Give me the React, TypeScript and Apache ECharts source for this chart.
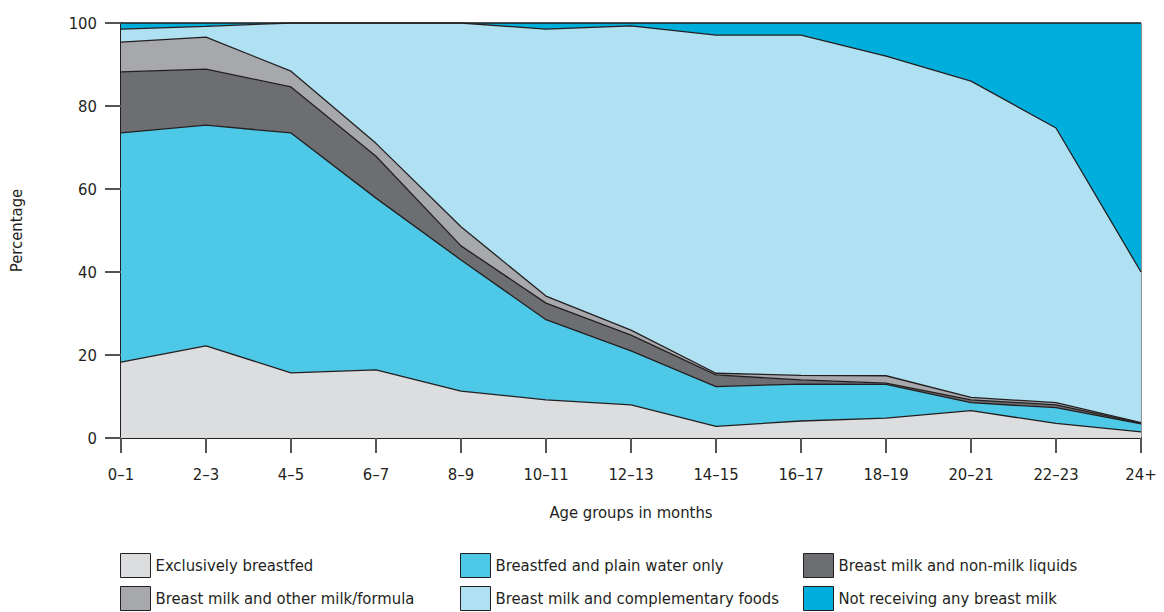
import React, { useEffect, useRef } from "react";
import * as echarts from "echarts";

const categories = ["0–1", "2–3", "4–5", "6–7", "8–9", "10–11", "12–13", "14–15", "16–17", "18–19", "20–21", "22–23", "24+"];
const exclusivelyBreastfed = [18.3, 22.2, 15.7, 16.4, 11.3, 9.2, 8.0, 2.8, 4.1, 4.8, 6.6, 3.5, 1.5];
const plainWaterOnly = [55.2, 53.2, 57.8, 41.4, 31.6, 19.3, 13.0, 9.6, 8.9, 8.1, 1.9, 3.8, 1.9];
const nonMilkLiquids = [14.7, 13.5, 11.1, 10.1, 3.4, 4.0, 3.8, 2.8, 1.0, 0.3, 0.7, 0.7, 0.2];
const otherMilkFormula = [7.2, 7.7, 3.8, 3.1, 4.6, 1.7, 1.2, 0.4, 1.1, 1.8, 0.6, 0.5, 0.1];
const complementaryFoods = [3.1, 2.6, 11.6, 29.0, 49.1, 64.3, 73.3, 81.5, 82.0, 77.0, 76.2, 66.2, 36.3];
const notReceiving = [1.5, 0.8, 0, 0, 0, 1.5, 0.7, 2.9, 2.9, 8.0, 14.0, 25.3, 60.0];
const yTicks = [0, 20, 40, 60, 80, 100];

const FONT = "'Liberation Sans Narrow', 'DejaVu Sans Condensed', 'Roboto', sans-serif";
const INK = "#231F20";
const FS = 16.5;

const seriesDefs = [
  { name: "Exclusively breastfed", data: exclusivelyBreastfed, color: "#DCDDDF" },
  { name: "Breastfed and plain water only", data: plainWaterOnly, color: "#4DC8E6" },
  { name: "Breast milk and non-milk liquids", data: nonMilkLiquids, color: "#6D6E72" },
  { name: "Breast milk and other milk/formula", data: otherMilkFormula, color: "#A7A8AC" },
  { name: "Breast milk and complementary foods", data: complementaryFoods, color: "#B0E1F2" },
  { name: "Not receiving any breast milk", data: notReceiving, color: "#00AEDB" },
];

export default function App() {
  const ref = useRef<HTMLDivElement>(null);
  useEffect(() => {
    if (!ref.current) return;
    const chart = echarts.init(ref.current, undefined, { renderer: "svg" });
    const legendBase = {
      orient: "vertical" as const,
      top: 553,
      itemWidth: 30,
      itemHeight: 24,
      itemGap: 8,
      icon: "rect",
      itemStyle: { borderColor: INK, borderWidth: 1 },
      textStyle: { fontFamily: FONT, fontSize: FS, color: INK },
      selectedMode: false as const,
      padding: 0,
    };
    chart.setOption({
      animation: false,
      backgroundColor: "#ffffff",
      textStyle: { fontFamily: FONT },
      grid: {
        left: 120,
        right: 23,
        top: 23,
        bottom: 174,
        show: true,
        borderColor: INK,
        borderWidth: 1,
        backgroundColor: "transparent",
      },
      legend: [
        { ...legendBase, left: 120, data: [seriesDefs[0].name, seriesDefs[3].name] },
        { ...legendBase, left: 460, data: [seriesDefs[1].name, seriesDefs[4].name] },
        { ...legendBase, left: 803, data: [seriesDefs[2].name, seriesDefs[5].name] },
      ],
      xAxis: {
        type: "category",
        data: categories,
        boundaryGap: false,
        name: "Age groups in months",
        nameLocation: "middle",
        nameGap: 66,
        nameTextStyle: { fontFamily: FONT, fontSize: FS, color: INK },
        axisLine: { lineStyle: { color: INK, width: 2 } },
        axisTick: { show: true, length: 15, lineStyle: { color: "#555", width: 2 } },
        axisLabel: { fontFamily: FONT, fontSize: FS, color: INK, margin: 28 },
        splitLine: { show: false },
      },
      yAxis: {
        type: "value",
        min: 0,
        max: 100,
        interval: 20,
        name: "Percentage",
        nameLocation: "middle",
        nameGap: 96,
        nameRotate: 90,
        nameTextStyle: { fontFamily: FONT, fontSize: FS, color: INK },
        axisLine: { show: true, lineStyle: { color: INK, width: 2 } },
        axisTick: { show: true, length: 16, lineStyle: { color: "#555", width: 2 } },
        axisLabel: {
          fontFamily: FONT,
          fontSize: FS,
          color: INK,
          margin: 24,
          formatter: (v: number) => (yTicks.includes(v) ? String(v) : ""),
        },
        splitLine: { show: false },
      },
      series: seriesDefs.map((s) => ({
        name: s.name,
        type: "line",
        stack: "total",
        data: s.data,
        symbol: "none",
        color: s.color,
        itemStyle: { color: s.color },
        lineStyle: { color: INK, width: 1.3 },
        areaStyle: { color: s.color, opacity: 1 },
      })),
    });
    return () => chart.dispose();
  }, []);
  return <div ref={ref} style={{ width: 1164, height: 612, position: "absolute", left: 0, top: 0 }} />;
}
